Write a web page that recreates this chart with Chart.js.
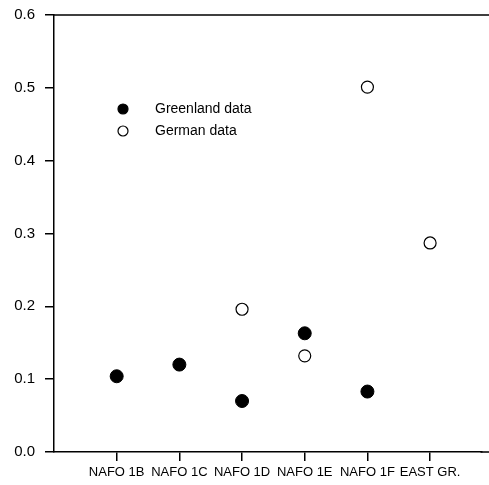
<!DOCTYPE html>
<html>
<head>
<meta charset="utf-8">
<script src="https://cdn.jsdelivr.net/npm/chart.js@4"></script>
<style>
  html, body { margin: 0; padding: 0; background: #fff; }
  #wrap { width: 489px; height: 485px; }
</style>
</head>
<body>
<div id="wrap"><canvas id="plot" width="489" height="485"></canvas></div>
<script>
// Areas along the x axis (positions 1..6)
const areas = ['NAFO 1B', 'NAFO 1C', 'NAFO 1D', 'NAFO 1E', 'NAFO 1F', 'EAST GR.'];
// Values per area, null where no sample
const greenland = [0.104, 0.120, 0.070, 0.163, 0.083, null];
const german = [null, null, 0.196, 0.132, 0.501, 0.287];
const yTicks = [0.0, 0.1, 0.2, 0.3, 0.4, 0.5, 0.6];

const FONT = '"Liberation Sans", Arial, sans-serif';

function toPoints(values) {
    return values
        .map((v, i) => (v === null ? null : { x: i + 1, y: v }))
        .filter(p => p !== null);
}

// Top frame line, axis lines run out to the canvas edge, and the inset legend
const framePlugin = {
    id: 'frame',
    afterDraw(chart) {
        const { ctx, chartArea } = chart;
        ctx.save();
        ctx.strokeStyle = '#000';
        ctx.lineWidth = 1.5;
        ctx.beginPath();
        ctx.moveTo(chartArea.left, chartArea.top);
        ctx.lineTo(chart.width, chartArea.top);
        ctx.moveTo(chartArea.right - 1, chartArea.bottom);
        ctx.lineTo(chart.width, chartArea.bottom);
        ctx.stroke();

        const items = [
            { label: 'Greenland data', fill: '#000' },
            { label: 'German data', fill: '#fff' }
        ];
        ctx.font = '14px ' + FONT;
        ctx.textBaseline = 'middle';
        items.forEach((item, i) => {
            const y = 109 + i * 22;
            ctx.beginPath();
            ctx.arc(123, y, 5, 0, Math.PI * 2);
            ctx.fillStyle = item.fill;
            ctx.fill();
            ctx.lineWidth = 1.2;
            ctx.strokeStyle = '#000';
            ctx.stroke();
            ctx.fillStyle = '#000';
            ctx.fillText(item.label, 155, y);
        });
        ctx.restore();
    }
};

new Chart(document.getElementById('plot'), {
    type: 'scatter',
    data: {
        datasets: [
            {
                label: 'Greenland data',
                data: toPoints(greenland),
                pointRadius: 6.5,
                pointBackgroundColor: '#000',
                pointBorderColor: '#000',
                pointBorderWidth: 1
            },
            {
                label: 'German data',
                data: toPoints(german),
                pointRadius: 6,
                pointBackgroundColor: '#fff',
                pointBorderColor: '#000',
                pointBorderWidth: 1.2
            }
        ]
    },
    options: {
        responsive: false,
        animation: false,
        layout: { padding: { top: 15, right: 0, left: 0, bottom: 0 } },
        plugins: {
            legend: { display: false },
            tooltip: { enabled: false }
        },
        scales: {
            x: {
                type: 'linear',
                min: 0,
                max: 6.82,
                afterBuildTicks(scale) {
                    scale.ticks = areas.map((a, i) => ({ value: i + 1 }));
                },
                afterFit(scale) {
                    scale.height = 33;
                    scale.paddingLeft = 0;
                    scale.paddingRight = 0;
                },
                border: { display: true, color: '#000', width: 1.5 },
                grid: {
                    drawOnChartArea: false,
                    drawTicks: true,
                    tickLength: 9,
                    color: '#000',
                    lineWidth: 1.5
                },
                ticks: {
                    autoSkip: false,
                    maxRotation: 0,
                    padding: 4,
                    color: '#000',
                    font: { family: FONT, size: 13 },
                    callback: v => areas[v - 1]
                }
            },
            y: {
                min: 0,
                max: 0.6,
                afterBuildTicks(scale) {
                    scale.ticks = yTicks.map(v => ({ value: v }));
                },
                afterFit(scale) {
                    scale.width = 54;
                    scale.paddingTop = 0;
                    scale.paddingBottom = 0;
                },
                border: { display: true, color: '#000', width: 1.5 },
                grid: {
                    drawOnChartArea: false,
                    drawTicks: true,
                    tickLength: 9,
                    color: '#000',
                    lineWidth: 1.5
                },
                ticks: {
                    padding: 10,
                    color: '#000',
                    font: { family: FONT, size: 15 },
                    callback: v => v.toFixed(1)
                }
            }
        }
    },
    plugins: [framePlugin]
});
</script>
</body>
</html>
